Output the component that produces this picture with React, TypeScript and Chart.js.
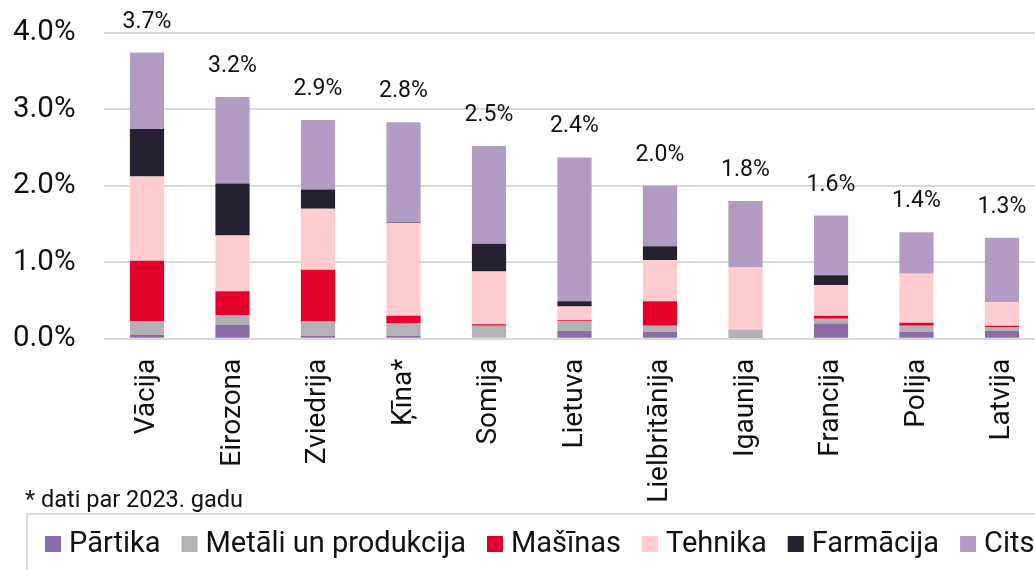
import React, { useEffect, useRef } from 'react';
import { Chart, registerables } from 'chart.js';

Chart.register(...registerables);

const categories = ['Vācija', 'Eirozona', 'Zviedrija', 'Ķīna*', 'Somija', 'Lietuva', 'Lielbritānija', 'Igaunija', 'Francija', 'Polija', 'Latvija'];

const partika = [0.05, 0.18, 0.04, 0.04, 0.0, 0.10, 0.09, 0.02, 0.20, 0.09, 0.10];
const metali = [0.18, 0.13, 0.19, 0.16, 0.17, 0.13, 0.08, 0.10, 0.06, 0.08, 0.05];
const masinas = [0.79, 0.31, 0.67, 0.10, 0.02, 0.01, 0.32, 0.0, 0.04, 0.04, 0.02];
const tehnika = [1.10, 0.73, 0.80, 1.21, 0.69, 0.18, 0.54, 0.81, 0.40, 0.64, 0.31];
const farmacija = [0.62, 0.68, 0.25, 0.01, 0.36, 0.07, 0.18, 0.0, 0.13, 0.0, 0.0];
const cits = [1.00, 1.13, 0.91, 1.31, 1.28, 1.88, 0.79, 0.87, 0.78, 0.54, 0.84];

const totals = [3.7, 3.2, 2.9, 2.8, 2.5, 2.4, 2.0, 1.8, 1.6, 1.4, 1.3];

const seriesNames = ['Pārtika', 'Metāli un produkcija', 'Mašīnas', 'Tehnika', 'Farmācija', 'Cits'];
const seriesColors = ['#8c6ca6', '#b4b0b6', '#e4002b', '#ffcdd0', '#262131', '#b29cc4'];
const seriesValues = [partika, metali, masinas, tehnika, farmacija, cits];

const yMin = 0;
const yMax = 4;
const yStep = 1;

const footnote = '* dati par 2023. gadu';

const FONT = 'Roboto';
const TEXT = '#111111';

export default function App() {
  const ref = useRef<HTMLCanvasElement>(null);

  useEffect(() => {
    document.body.style.margin = '0';
    document.body.style.overflow = 'hidden';
    const canvas = ref.current;
    if (!canvas) return;

    const overlay = {
      id: 'overlay',
      afterDatasetsDraw(chart: any) {
        const ctx = chart.ctx;
        const yScale = chart.scales.y;
        const meta = chart.getDatasetMeta(0);
        ctx.save();
        ctx.font = `23px ${FONT}`;
        ctx.fillStyle = TEXT;
        ctx.textAlign = 'center';
        ctx.textBaseline = 'alphabetic';
        categories.forEach((_, i) => {
          let sum = 0;
          seriesValues.forEach((s) => (sum += s[i]));
          const x = meta.data[i].x;
          const y = yScale.getPixelForValue(sum);
          ctx.fillText(totals[i].toFixed(1) + '%', x, y - 25);
        });
        ctx.restore();
      },
      afterDraw(chart: any) {
        const ctx = chart.ctx;
        ctx.save();
        // footnote
        ctx.font = `23.5px ${FONT}`;
        ctx.fillStyle = TEXT;
        ctx.textAlign = 'left';
        ctx.textBaseline = 'alphabetic';
        ctx.fillText(footnote, 25, 507);
        // legend box
        ctx.strokeStyle = '#d9d9d9';
        ctx.lineWidth = 2;
        ctx.strokeRect(27, 514, 1100, 120);
        // legend items
        ctx.font = `29px ${FONT}`;
        let x = 45;
        const base = 552;
        seriesNames.forEach((name, i) => {
          ctx.fillStyle = seriesColors[i];
          ctx.fillRect(x, base - 16, 16, 16);
          ctx.fillStyle = TEXT;
          ctx.fillText(name, x + 24, base);
          x += 24 + ctx.measureText(name).width + 21;
        });
        ctx.restore();
      },
    };

    const chart = new Chart(canvas, {
      type: 'bar',
      data: {
        labels: categories,
        datasets: seriesNames.map((name, i) => ({
          label: name,
          data: seriesValues[i],
          backgroundColor: seriesColors[i],
          borderWidth: 0,
          barPercentage: 0.4,
          categoryPercentage: 1,
        })),
      },
      options: {
        responsive: false,
        animation: false,
        layout: { padding: { top: 32.7, right: 5.25, bottom: 0, left: 0 } },
        plugins: {
          legend: { display: false },
          tooltip: { enabled: false },
        },
        scales: {
          x: {
            stacked: true,
            grid: { display: false, drawTicks: false },
            border: { display: false },
            ticks: {
              minRotation: 90,
              maxRotation: 90,
              padding: 20,
              color: TEXT,
              font: { family: FONT, size: 28 },
            },
            afterFit: (s: any) => {
              s.height = 570 - 338.7;
              s.paddingLeft = 0;
              s.paddingRight = 0;
            },
          },
          y: {
            stacked: true,
            min: yMin,
            max: yMax,
            grid: { color: '#d9d9d9', lineWidth: 2, drawTicks: false },
            border: { display: false },
            ticks: {
              stepSize: yStep,
              padding: 28.75,
              color: TEXT,
              font: { family: FONT, size: 29.5 },
              callback: (v: any) => Number(v).toFixed(1) + '%',
            },
            afterFit: (s: any) => {
              s.width = 104.25;
              s.paddingTop = 0;
              s.paddingBottom = 0;
            },
          },
        },
      },
      plugins: [overlay],
    });
    return () => chart.destroy();
  }, []);

  return (
    <div style={{ position: 'fixed', left: 0, top: 0, width: 1035, height: 570, overflow: 'hidden', background: '#fff' }}>
      <canvas ref={ref} width={1050} height={570} style={{ width: 1050, height: 570, display: 'block' }} />
    </div>
  );
}
